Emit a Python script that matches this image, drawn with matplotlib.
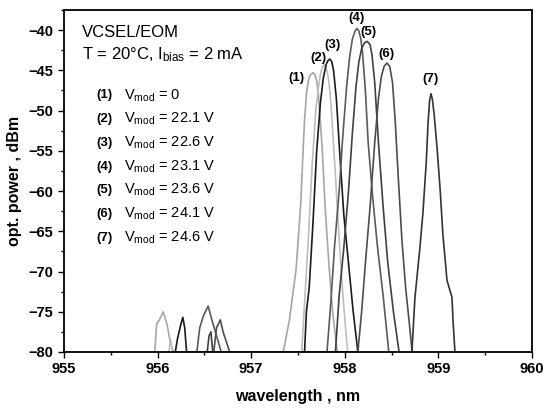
import matplotlib.pyplot as plt
from matplotlib.ticker import MultipleLocator

plt.rcParams['font.family'] = ['Liberation Sans', 'DejaVu Sans']
plt.rcParams['mathtext.fontset'] = 'custom'
plt.rcParams['mathtext.rm'] = 'Liberation Sans'
plt.rcParams['mathtext.it'] = 'Liberation Sans:italic'

# spectra: wavelength (nm), power (dBm)
wl_1 = [955.97, 955.99, 956.02, 956.06, 956.10, 956.14, 956.17, 957.34, 957.36, 957.41, 957.48,
        957.53, 957.55, 957.57, 957.59, 957.61, 957.63, 957.66, 957.68, 957.70, 957.72, 957.74,
        957.76, 957.79, 957.83, 957.87, 957.92]
p_1 = [-80, -76.5, -76, -75, -76.5, -79, -80, -80, -79, -75.9, -69.7,
       -61.5, -56.2, -51.2, -48.0, -46.3, -45.6, -45.3, -45.5, -46.3, -48.2, -51.5,
       -55, -62, -69, -75, -80]

wl_2 = [956.12, 956.14, 956.16, 957.54, 957.57, 957.61, 957.65, 957.69, 957.72, 957.74, 957.76,
        957.78, 957.80, 957.82, 957.84, 957.86, 957.90, 957.94, 957.98, 958.03]
p_2 = [-80, -78.5, -80, -80, -74, -66, -57, -50, -47.0, -45.5, -44.6,
       -44.3, -44.6, -45.6, -47.5, -50.5, -58, -66, -73, -80]

wl_3 = [956.19, 956.21, 956.23, 956.25, 956.27, 956.29, 956.31, 957.57, 957.59, 957.62, 957.66,
        957.70, 957.74, 957.77, 957.80, 957.82, 957.84, 957.86, 957.88, 957.91, 957.95, 957.99,
        958.04, 958.09, 958.14]
p_3 = [-80, -78.5, -77.5, -76.5, -75.7, -77, -80, -80, -75, -72, -64,
       -55, -49, -46.0, -44.3, -43.8, -43.6, -43.9, -45.0, -48.5, -56, -63,
       -69, -75, -80]

wl_4 = [956.42, 956.45, 956.49, 956.54, 956.58, 956.63, 956.68, 957.81, 957.85, 957.89, 957.94,
        957.98, 958.02, 958.05, 958.08, 958.11, 958.13, 958.15, 958.17, 958.19, 958.22, 958.25,
        958.30, 958.35, 958.41, 958.47]
p_4 = [-80, -77, -75.5, -74.3, -76, -78, -80, -80, -74, -67, -60,
       -53, -47, -43.5, -41.2, -40.1, -39.8, -40.1, -41.0, -42.8, -47.5, -54,
       -61, -67, -73, -80]

wl_5 = [956.53, 956.55, 956.57, 956.59, 957.90, 957.94, 957.99, 958.04, 958.08, 958.12, 958.15,
        958.18, 958.21, 958.24, 958.27, 958.29, 958.32, 958.36, 958.41, 958.46, 958.52, 958.58]
p_5 = [-80, -78, -77.5, -80, -80, -73, -67, -60, -53, -47, -44.0,
       -42.3, -41.6, -41.4, -41.8, -43.0, -46.5, -54, -62, -69, -75, -80]

wl_6 = [956.60, 956.63, 956.67, 956.70, 956.77, 958.14, 958.18, 958.22, 958.27, 958.32, 958.36,
        958.39, 958.42, 958.45, 958.48, 958.51, 958.54, 958.57, 958.61, 958.65, 958.69, 958.72]
p_6 = [-80, -77, -76, -77.5, -80, -80, -75, -69, -62, -54, -48.5,
       -45.8, -44.5, -44.1, -44.5, -46.5, -51.5, -58, -66, -72, -76.5, -80]

wl_7 = [958.718, 958.750, 958.803, 958.835, 958.870, 958.890, 958.906, 958.921, 958.936, 958.955,
        958.985, 959.017, 959.049, 959.092, 959.145, 959.156, 959.177]
p_7 = [-79.75, -73.2, -67.0, -62.7, -56.5, -51.5, -48.8, -47.9, -48.6, -50.5,
       -54.5, -59.5, -65.5, -71.1, -73.2, -76.0, -80]

labels = ['(1)', '(2)', '(3)', '(4)', '(5)', '(6)', '(7)']
vmod = ['0', '22.1 V', '22.6 V', '23.1 V', '23.6 V', '24.1 V', '24.6 V']
colors = ['#a6a6a6', '#bdbdbd', '#1a1a1a', '#5a5a5a', '#404040', '#4d4d4d', '#333333']

series = [(wl_1, p_1), (wl_2, p_2), (wl_3, p_3), (wl_4, p_4), (wl_5, p_5), (wl_6, p_6), (wl_7, p_7)]

fig = plt.figure(figsize=(5.44, 4.09), dpi=100)
ax = fig.add_axes([0.1176, 0.1394, 0.8603, 0.8362])

for (wl, p), c in zip(series, colors):
    ax.plot(wl, p, color=c, lw=1.2)

ax.set_xlim(955, 960)
ax.set_ylim(-80, -37.5)
ax.xaxis.set_major_locator(MultipleLocator(1))
ax.xaxis.set_minor_locator(MultipleLocator(0.5))
ax.yaxis.set_major_locator(MultipleLocator(5))
ax.yaxis.set_minor_locator(MultipleLocator(2.5))
ax.tick_params(which='major', direction='out', length=4, width=1, labelsize=10.5)
ax.tick_params(which='minor', direction='out', length=2.5, width=1)
for lab in ax.get_xticklabels() + ax.get_yticklabels():
    lab.set_fontweight('bold')
for s in ax.spines.values():
    s.set_linewidth(1.3)

ax.set_xlabel('wavelength , nm', fontsize=11.5, fontweight='bold', labelpad=9)
ax.set_ylabel('opt. power , dBm', fontsize=11.5, fontweight='bold', labelpad=5)

# header text
ax.text(0.038, 0.935, 'VCSEL/EOM', transform=ax.transAxes, fontsize=12, va='center')
ax.text(0.038, 0.868, r'T = 20°C, I$_{\mathrm{bias}}$ = 2 mA', transform=ax.transAxes,
        fontsize=12, va='center')

# legend lines
for i, (lab, v) in enumerate(zip(labels, vmod)):
    y = 0.75 - i * 0.0693
    ax.text(0.07, y, lab, transform=ax.transAxes, fontsize=9.5, fontweight='bold', va='center')
    ax.text(0.128, y, r'V$_{\mathrm{mod}}$ = ' + v, transform=ax.transAxes, fontsize=10.5, va='center')

# peak labels
peak_pos = [(0.496, 0.801), (0.543, 0.860), (0.573, 0.898), (0.626, 0.977),
            (0.650, 0.936), (0.688, 0.871), (0.784, 0.798)]
for lab, (x, y) in zip(labels, peak_pos):
    ax.text(x, y, lab, transform=ax.transAxes, fontsize=9.5, fontweight='bold',
            ha='center', va='center')

fig.savefig('out.png', dpi=100)
